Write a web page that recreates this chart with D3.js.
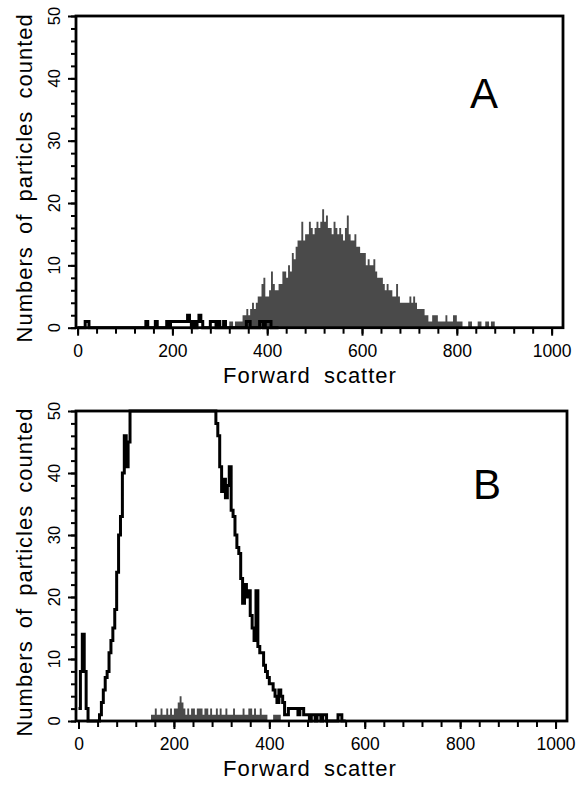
<!DOCTYPE html>
<html>
<head>
<meta charset="utf-8">
<script src="https://cdn.jsdelivr.net/npm/d3@7"></script>
<style>
  body { margin: 0; background: #fff; }
  svg { display: block; }
  text { font-family: 'Liberation Sans', Arial, Helvetica, sans-serif; fill: #000; }
</style>
</head>
<body>
<div id="chart"></div>
<script>
// channel width of one histogram bin
const binWidth = 4;
const xTicks = [0, 200, 400, 600, 800, 1000];
const yTicks = [0, 10, 20, 30, 40, 50];

// Panel A: grey filled histogram + black outline trace
const aGrayStart = 320;
const aGray = [
  1, 1, 0, 1, 1, 1, 1, 2, 2, 3,
  2, 3, 4, 3, 4, 5, 5, 7, 8, 5,
  5, 6, 9, 7, 6, 6, 7, 7, 9, 9,
  8, 10, 9, 12, 11, 13, 14, 14, 17, 14,
  15, 15, 17, 16, 15, 16, 17, 16, 17, 19,
  17, 18, 16, 16, 15, 17, 16, 15, 16, 15,
  14, 16, 18, 15, 14, 14, 15, 13, 13, 12,
  12, 12, 10, 11, 10, 10, 11, 9, 8, 8,
  8, 7, 6, 7, 6, 6, 5, 5, 7, 5,
  4, 4, 4, 4, 4, 5, 4, 5, 4, 3,
  3, 3, 3, 2, 2, 1, 1, 2, 2, 2,
  1, 1, 1, 1, 2, 1, 1, 1, 2, 2,
  1, 1, 1, 0, 0, 0, 1, 1, 0, 0,
  0, 1, 1, 0, 0, 1, 1, 0, 1, 1,
  0
];
const aLineStart = 0;
const aLine = [
  0, 0, 0, 0, 1, 1, 0, 0, 0, 0,
  0, 0, 0, 0, 0, 0, 0, 0, 0, 0,
  0, 0, 0, 0, 0, 0, 0, 0, 0, 0,
  0, 0, 0, 0, 0, 0, 1, 0, 0, 0,
  0, 1, 0, 0, 0, 0, 0, 1, 0, 1,
  1, 1, 1, 1, 1, 1, 1, 1, 2, 1,
  0, 1, 0, 1, 2, 1, 0, 0, 0, 0,
  1, 1, 1, 0, 1, 0, 0, 1, 0, 0,
  0, 0, 0, 0, 0, 0, 0, 0, 0, 1,
  1, 0, 0, 0, 0, 0, 1, 1, 0, 1,
  1, 1, 0, 0, 0, 0
];

// Panel B
const bGrayStart = 152;
const bGray = [
  1, 1, 2, 1, 1, 2, 1, 1, 2, 1,
  2, 1, 2, 2, 3, 4, 3, 2, 1, 2,
  1, 2, 2, 1, 2, 2, 2, 1, 2, 2,
  1, 2, 1, 1, 2, 1, 2, 1, 1, 2,
  1, 1, 1, 2, 1, 1, 1, 1, 2, 1,
  1, 2, 2, 1, 2, 1, 1, 2, 1, 1,
  1, 0, 0, 0, 1, 1, 1, 1, 0
];
const bLineStart = 0;
const bLine = [
  2, 8, 14, 8, 2, 0, 0, 0, 0, 0,
  0, 1, 3, 5, 7, 8, 11, 13, 15, 18,
  24, 30, 33, 40, 46, 41, 45, 50, 50, 50,
  50, 50, 50, 50, 50, 50, 50, 50, 50, 50,
  50, 50, 50, 50, 50, 50, 50, 50, 50, 50,
  50, 50, 50, 50, 50, 50, 50, 50, 50, 50,
  50, 50, 50, 50, 50, 50, 50, 50, 50, 50,
  50, 50, 48, 46, 41, 37, 39, 36, 38, 41,
  34, 33, 30, 28, 27, 23, 19, 22, 20, 21,
  17, 15, 13, 21, 12, 11, 11, 9, 8, 7,
  6, 6, 5, 4, 3, 5, 4, 3, 1, 1,
  2, 2, 2, 2, 2, 1, 2, 2, 1, 1,
  1, 0, 1, 1, 0, 1, 1, 0, 1, 1,
  0, 0, 0, 0, 0, 0, 1, 1, 0, 0
];

const svg = d3.select('#chart').append('svg')
  .attr('width', 583)
  .attr('height', 786);

function steps(start, vals) {
  const pts = vals.map((v, i) => [start + i * binWidth, v]);
  pts.push([start + vals.length * binWidth, vals[vals.length - 1]]);
  return pts;
}

function drawPanel(p) {
  const x = d3.scaleLinear().domain([0, 1024]).range([p.x0, p.right]);
  const y = d3.scaleLinear().domain([0, 50]).range([p.bottom, p.top]);
  const g = svg.append('g');

  // grey histogram
  g.append('path')
    .datum(steps(p.grayStart, p.gray))
    .attr('d', d3.area().curve(d3.curveStepAfter)
      .x(d => x(d[0])).y0(y(0)).y1(d => y(d[1])))
    .attr('fill', '#4a4a4a');

  // black trace
  g.append('path')
    .datum(steps(p.lineStart, p.line))
    .attr('d', d3.line().curve(d3.curveStepAfter)
      .x(d => x(d[0])).y(d => y(d[1])))
    .attr('fill', 'none')
    .attr('stroke', '#000')
    .attr('stroke-width', 3);

  // frame
  g.append('rect')
    .attr('x', p.left).attr('y', p.top)
    .attr('width', p.right - p.left).attr('height', p.bottom - p.top)
    .attr('fill', 'none').attr('stroke', '#000').attr('stroke-width', 2.8);

  // x ticks (minor every 40, major every 200)
  const xMinor = g.append('g').attr('transform', `translate(0,${p.bottom})`)
    .call(d3.axisBottom(x).tickValues(d3.range(0, 1001, 40)).tickSize(6).tickFormat(''));
  const xMajor = g.append('g').attr('transform', `translate(0,${p.bottom})`)
    .call(d3.axisBottom(x).tickValues(xTicks).tickSize(8).tickFormat(d => d));
  [xMinor, xMajor].forEach(a => {
    a.select('.domain').remove();
    a.selectAll('line').attr('stroke-width', 2);
  });
  xMajor.selectAll('text')
    .attr('y', 29).attr('dy', 0)
    .style('font-size', '17.5px');

  // y ticks (minor every 2, major every 10)
  const yMinor = g.append('g').attr('transform', `translate(${p.left},0)`)
    .call(d3.axisLeft(y).tickValues(d3.range(0, 51, 2)).tickSize(5).tickFormat(''));
  const yMajor = g.append('g').attr('transform', `translate(${p.left},0)`)
    .call(d3.axisLeft(y).tickValues(yTicks).tickSize(8).tickFormat(''));
  [yMinor, yMajor].forEach(a => {
    a.select('.domain').remove();
    a.selectAll('line').attr('stroke-width', 2);
  });
  g.selectAll('.ylab')
    .data(yTicks)
    .enter().append('text')
    .attr('transform', d => `translate(60,${y(d)}) rotate(-90)`)
    .attr('text-anchor', 'middle')
    .style('font-size', '16.5px')
    .text(d => d);

  // titles
  g.append('text')
    .attr('x', 310).attr('y', p.bottom + 55)
    .attr('text-anchor', 'middle')
    .style('font-size', '22px')
    .style('letter-spacing', '1px')
    .style('word-spacing', '6px')
    .text('Forward scatter');
  g.append('text')
    .attr('transform', `translate(32,${(p.top + p.bottom) / 2 + 6}) rotate(-90)`)
    .attr('text-anchor', 'middle')
    .style('font-size', '22px')
    .style('letter-spacing', '1px')
    .style('word-spacing', '5px')
    .text('Numbers of particles counted');

  g.append('text')
    .attr('x', p.letterX).attr('y', p.letterY)
    .attr('text-anchor', 'middle')
    .style('font-size', '42px')
    .text(p.letter);
}

drawPanel({
  left: 76, right: 563, top: 16, bottom: 327.7, x0: 77.6,
  gray: aGray, grayStart: aGrayStart, line: aLine, lineStart: aLineStart,
  letter: 'A', letterX: 484, letterY: 108
});
drawPanel({
  left: 76, right: 567, top: 411, bottom: 721, x0: 78.5,
  gray: bGray, grayStart: bGrayStart, line: bLine, lineStart: bLineStart,
  letter: 'B', letterX: 487, letterY: 499
});
</script>
</body>
</html>
